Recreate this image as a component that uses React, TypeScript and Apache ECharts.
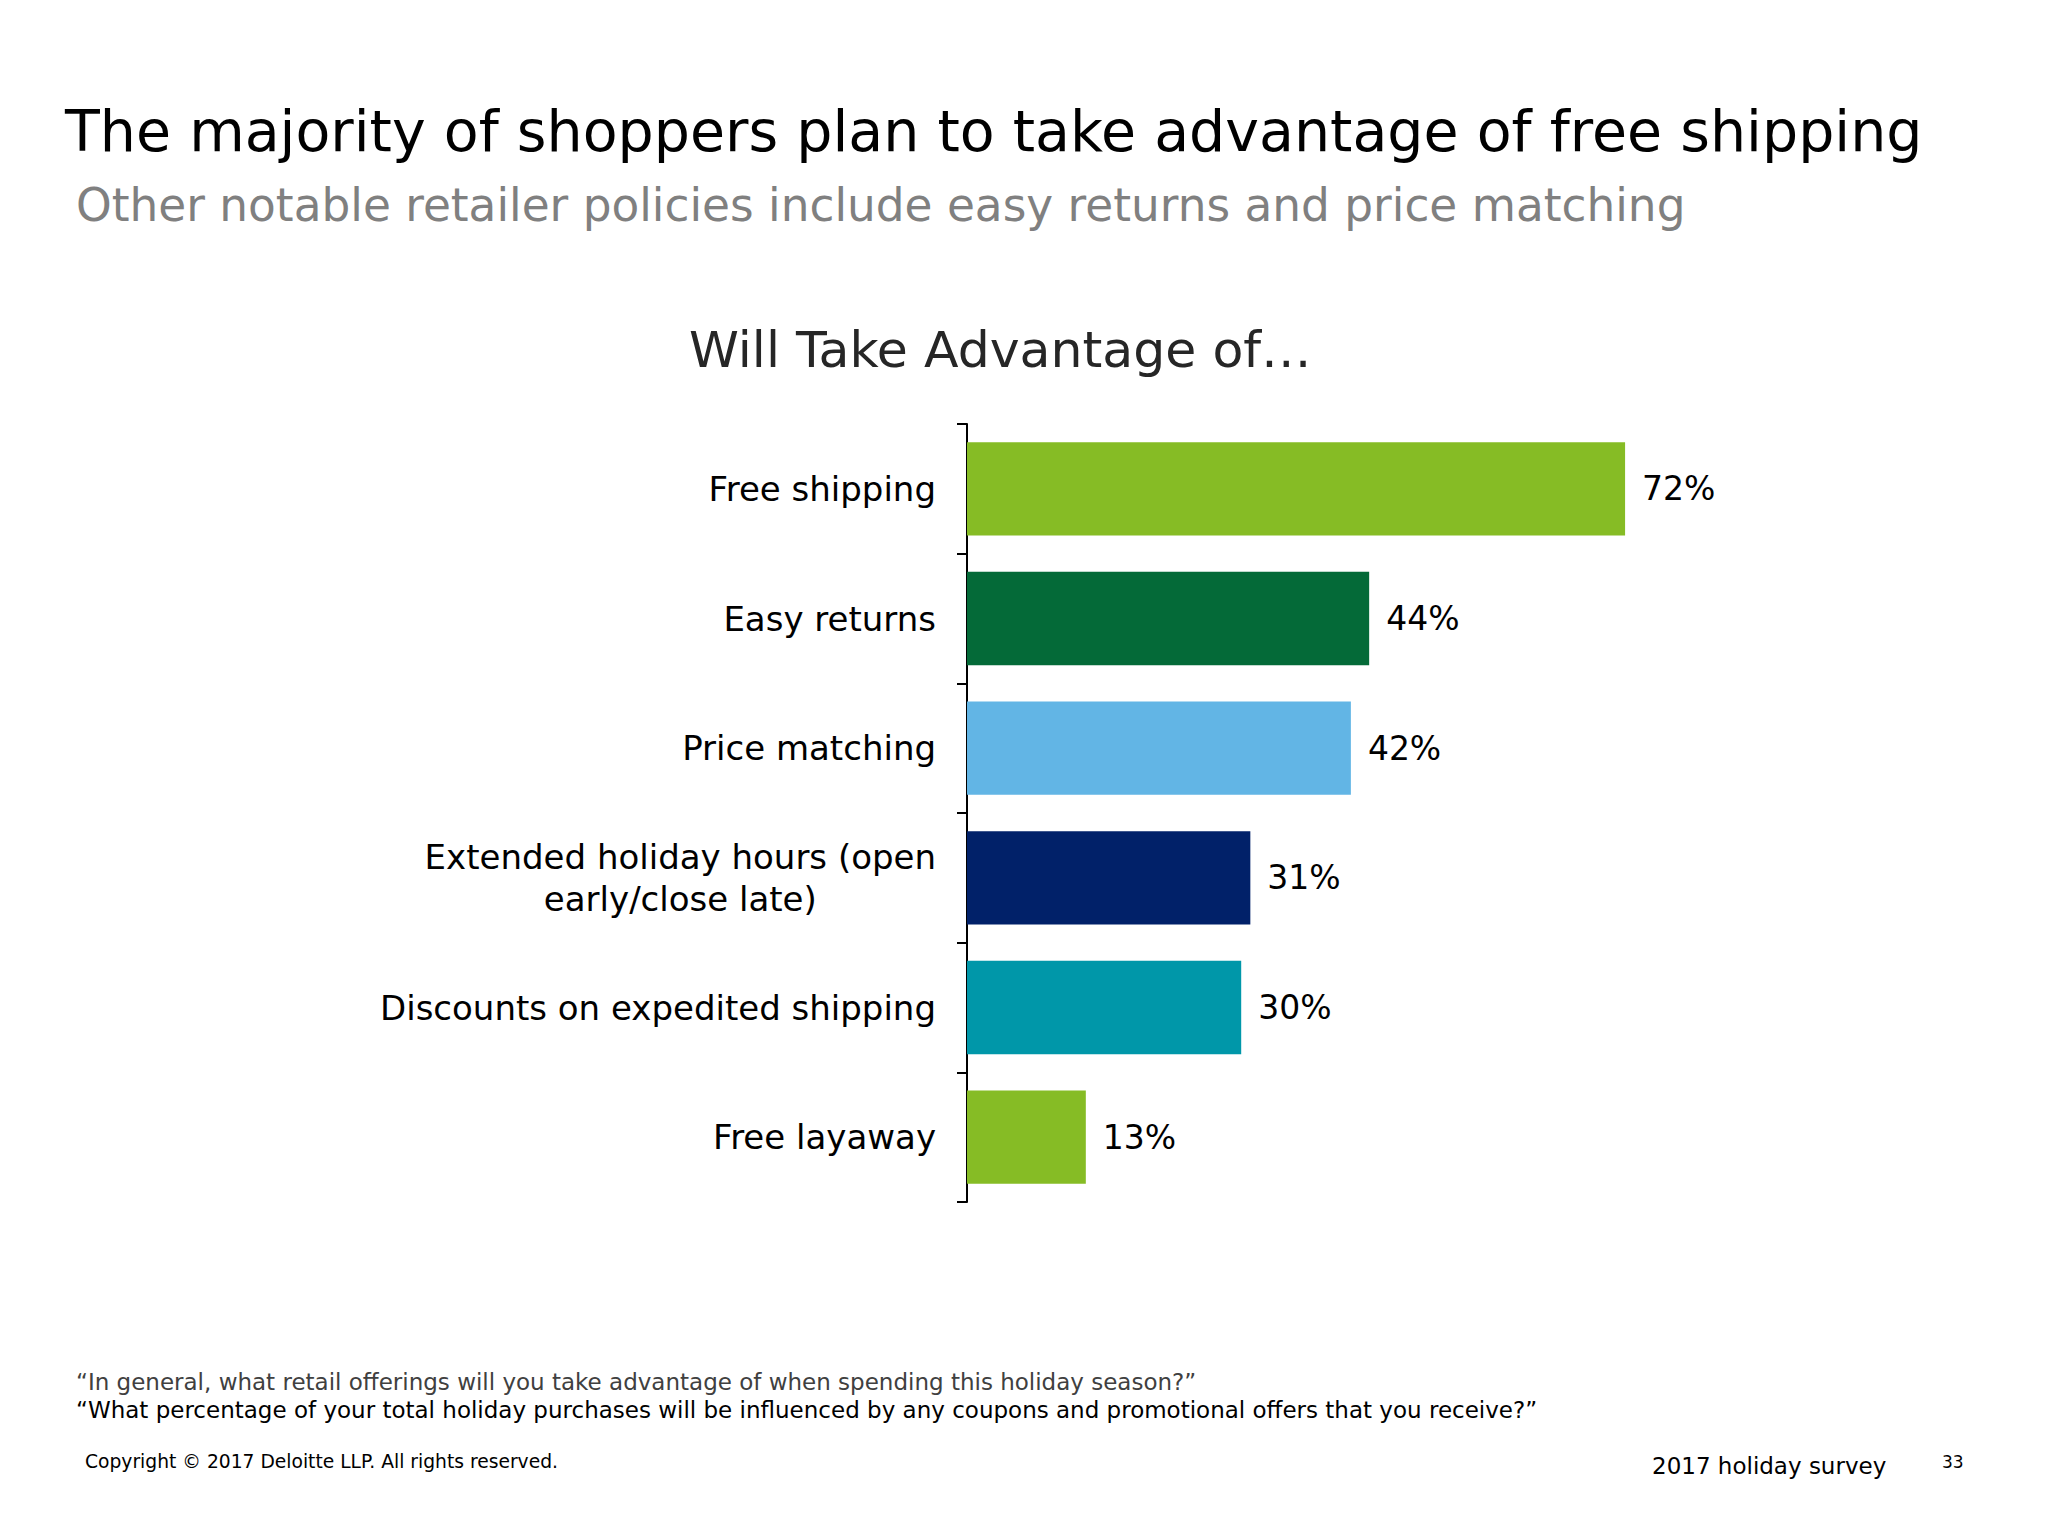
import React, { useEffect, useRef } from "react";
import * as echarts from "echarts";

const categories = [
  "Free shipping",
  "Easy returns",
  "Price matching",
  "Extended holiday hours (open\nearly/close late)",
  "Discounts on expedited shipping",
  "Free layaway",
];
const values = [72, 44, 42, 31, 30, 13];
const barColors = ["#86BC25", "#046A38", "#62B5E5", "#012169", "#0097A9", "#86BC25"];

const titleText = "The majority of shoppers plan to take advantage of free shipping";
const subtitleText = "Other notable retailer policies include easy returns and price matching";
const chartTitleText = "Will Take Advantage of…";
const noteLines = [
  "“In general, what retail offerings will you take advantage of when spending this holiday season?”",
  "“What percentage of your total holiday purchases will be influenced by any coupons and promotional offers that you receive?”",
];
const copyrightText = "Copyright © 2017 Deloitte LLP. All rights reserved.";
const surveyText = "2017 holiday survey";
const pageText = "33";

const FONT = "DejaVu Sans";

export default function App() {
  const ref = useRef<HTMLDivElement>(null);
  useEffect(() => {
    if (!ref.current) return;
    const chart = echarts.init(ref.current, null, { renderer: "svg" });
    chart.setOption({
      animation: false,
      backgroundColor: "#ffffff",
      grid: { left: 967, top: 424, width: 914, height: 778, containLabel: false },
      xAxis: { type: "value", min: 0, max: 100, show: false },
      yAxis: {
        type: "category",
        data: categories,
        inverse: true,
        axisLine: { show: true, lineStyle: { color: "#000000", width: 2 } },
        axisTick: { show: true, length: 10, lineStyle: { color: "#000000", width: 2 } },
        axisLabel: {
          margin: 31,
          align: "right",
          formatter: (v: string) => v.split("\n").map((l) => `{c|${l}}`).join("\n"),
          rich: {
            c: { fontFamily: FONT, fontSize: 34, color: "#000000", align: "center", lineHeight: 42 },
          },
        },
        splitLine: { show: false },
      },
      series: [
        {
          type: "bar",
          data: values.map((v, i) => ({ value: v, itemStyle: { color: barColors[i] } })),
          barCategoryGap: "28%",
          label: {
            show: true,
            position: "right",
            distance: 17,
            formatter: "{c}%",
            fontFamily: FONT,
            fontSize: 33,
            color: "#000000",
          },
        },
      ],
      graphic: [
        { type: "text", left: 65, top: 102, style: { text: titleText, fontFamily: FONT, fontSize: 57, fill: "#000000" } },
        { type: "text", left: 76, top: 183, style: { text: subtitleText, fontFamily: FONT, fontSize: 45.4, fill: "#808080" } },
        { type: "text", left: 689, top: 324, style: { text: chartTitleText, fontFamily: FONT, fontSize: 50.5, fill: "#262626" } },
        { type: "text", left: 76, top: 1370, style: { text: noteLines[0], fontFamily: FONT, fontSize: 23, fill: "#404040" } },
        { type: "text", left: 76, top: 1398, style: { text: noteLines[1], fontFamily: FONT, fontSize: 23, fill: "#000000" } },
        { type: "text", left: 85, top: 1452, style: { text: copyrightText, fontFamily: FONT, fontSize: 18.7, fill: "#000000" } },
        { type: "text", left: 1652, top: 1454, style: { text: surveyText, fontFamily: FONT, fontSize: 23, fill: "#000000" } },
        { type: "text", left: 1942, top: 1453, style: { text: pageText, fontFamily: FONT, fontSize: 17, fill: "#000000" } },
      ],
    });
    return () => chart.dispose();
  }, []);
  return (
    <div
      ref={ref}
      style={{ position: "fixed", left: 0, top: 0, width: 2048, height: 1536, background: "#fff" }}
    />
  );
}
